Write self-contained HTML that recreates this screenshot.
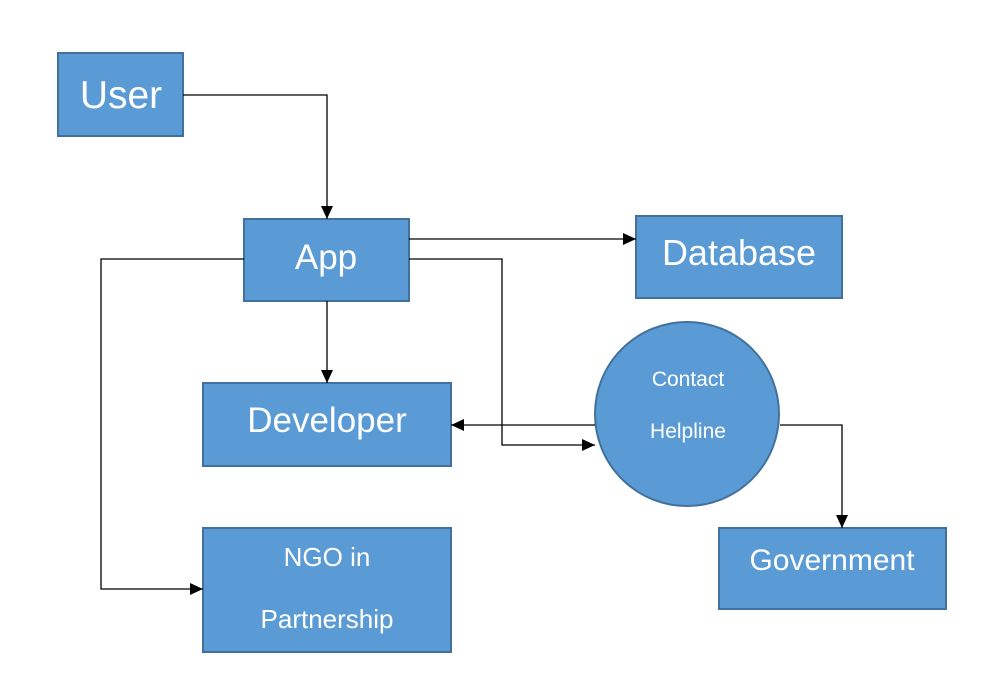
<!DOCTYPE html>
<html><head><meta charset="utf-8"><style>
html,body{margin:0;padding:0;background:#fff;}
svg text{font-family:"Liberation Sans",sans-serif;fill:#fff;text-anchor:middle;}
</style></head><body>
<svg width="1005" height="691" viewBox="0 0 1005 691" xmlns="http://www.w3.org/2000/svg">
<defs><marker id="b" markerWidth="14" markerHeight="14" refX="13" refY="6" orient="auto" markerUnits="userSpaceOnUse"><path d="M0,0 L13,6 L0,12 z" fill="#000"/></marker></defs>
<g fill="#5b9bd5" stroke="#41719c" stroke-width="2">
<rect x="58" y="53" width="125" height="83"/>
<rect x="244" y="219" width="165" height="82"/>
<rect x="636" y="216" width="206" height="82"/>
<rect x="203" y="383" width="248" height="83"/>
<rect x="203" y="528" width="248" height="124"/>
<rect x="719" y="528" width="227" height="81"/>
<circle cx="687" cy="414" r="92"/>
</g>
<g fill="none" stroke="#000" stroke-width="1.3">
<path d="M183,95 H327 V219" marker-end="url(#b)"/>
<path d="M409,239 H636" marker-end="url(#b)"/>
<path d="M409,259 H502 V445 H595" marker-end="url(#b)"/>
<path d="M595,425 H451" marker-end="url(#b)"/>
<path d="M327,301 V383" marker-end="url(#b)"/>
<path d="M244,259 H101 V589 H203" marker-end="url(#b)"/>
<path d="M780,425 H842 V528" marker-end="url(#b)"/>
</g>
<text x="121" y="108" font-size="39">User</text>
<text x="326" y="269" font-size="35">App</text>
<text x="739" y="265" font-size="36">Database</text>
<text x="327" y="432" font-size="35">Developer</text>
<text x="327" y="566" font-size="26">NGO in</text>
<text x="327" y="628" font-size="26">Partnership</text>
<text x="832" y="570" font-size="30">Government</text>
<text x="688" y="386" font-size="21">Contact</text>
<text x="688" y="438" font-size="21">Helpline</text>
</svg>
</body></html>
